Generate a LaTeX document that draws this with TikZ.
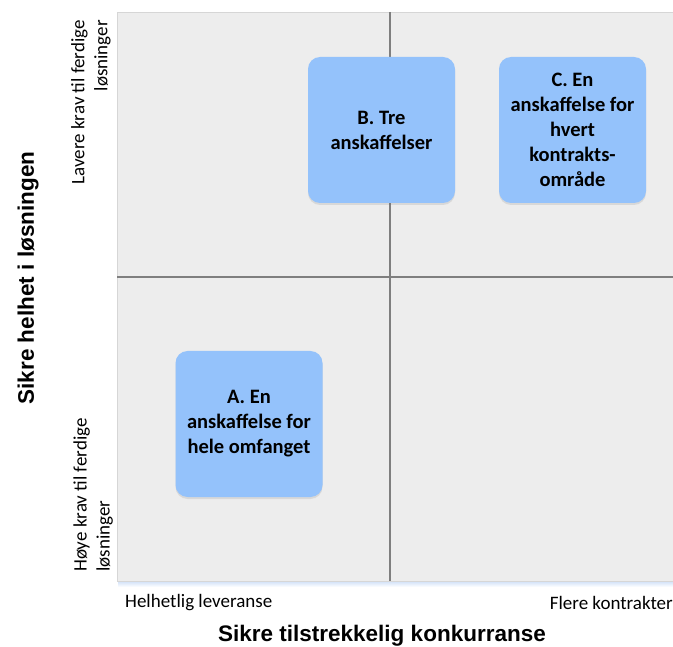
\documentclass[tikz,border=0pt]{standalone}
\usepackage{fontspec}
\setmainfont{Carlito}
\newfontfamily\axisfont{Liberation Sans}
\usetikzlibrary{shadows}
\definecolor{panelgrey}{HTML}{EDEDED}
\definecolor{paneledge}{HTML}{D6D6D6}
\definecolor{divider}{HTML}{7F7F7F}
\definecolor{boxblue}{HTML}{94C2FB}
\definecolor{glow}{HTML}{CFE0F8}
\tikzset{
  option/.style={rounded corners=12pt, fill=boxblue, draw=none,
    minimum width=147pt, minimum height=146pt, inner sep=0pt,
    align=center, font=\fontsize{20.5}{25}\selectfont\bfseries,
    drop shadow={shadow xshift=0pt, shadow yshift=-2pt, opacity=0.15, fill=black!60}},
  endlabel/.style={font=\fontsize{19}{23}\selectfont, inner sep=0pt},
  axistitle/.style={font=\axisfont\fontsize{22.5}{26}\selectfont\bfseries, inner sep=0pt},
  divline/.style={draw=divider, line width=1.6pt}
}
\begin{document}
\begin{tikzpicture}[x=1pt,y=-1pt]
\useasboundingbox (0,0) rectangle (673,647);
% quadrant panel with a faint glow along its lower edge
\shade[top color=glow, bottom color=white] (118,581) rectangle (676,587);
\filldraw[fill=panelgrey, draw=paneledge, line width=0.6pt] (117,12) rectangle (676,581);
% quadrant dividers
\coordinate (vtop) at (390,12);
\coordinate (vbot) at (390,581);
\coordinate (hleft) at (117,277);
\coordinate (hright) at (676,277);
\draw[divline] (hleft) -- (hright);
\draw[divline] (vtop) -- (vbot);
% alternatives
\node[option] (B) at (381.5,130) {B. Tre\\anskaffelser};
\node[option] (C) at (572.5,130) {C. En\\anskaffelse for\\hvert\\kontrakts-\\område};
\node[option] (A) at (249,424) {A. En\\anskaffelse for\\hele omfanget};
% vertical axis
\node[endlabel, rotate=90, anchor=north east, align=right] (ytop) at (71,20) {Lavere krav til ferdige\\løsninger};
\node[endlabel, rotate=90, anchor=south west, align=left] (ybot) at (113,572) {Høye krav til ferdige\\løsninger};
\node[axistitle, rotate=90] (ytitle) at (28,278) {Sikre helhet i løsningen};
% horizontal axis
\node[endlabel, anchor=west] (xleft) at (125,603) {Helhetlig leveranse};
\node[endlabel, anchor=east] (xright) at (673,603) {Flere kontrakter};
\node[axistitle] (xtitle) at (382,636) {Sikre tilstrekkelig konkurranse};
\end{tikzpicture}
\end{document}
